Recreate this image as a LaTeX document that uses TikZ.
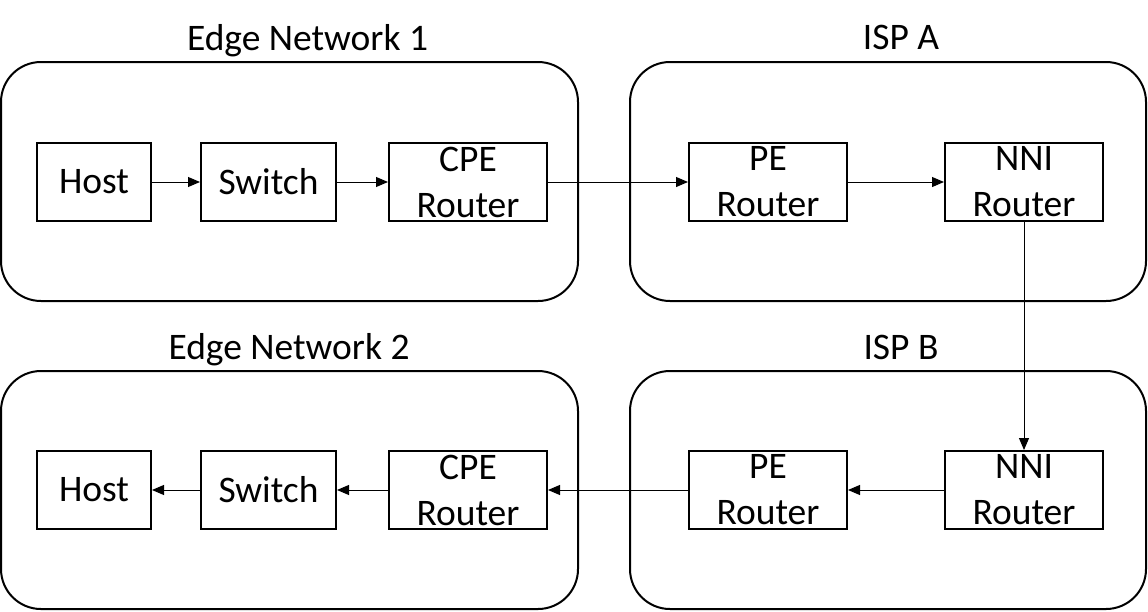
\documentclass[tikz,border=0pt]{standalone}
\usepackage{fontspec}
\setmainfont{Carlito}
\usetikzlibrary{arrows.meta}
\begin{document}
\begin{tikzpicture}[x=1pt,y=-1pt,
  every node/.style={font=\fontsize{37.5}{46}\selectfont},
  container/.style={draw,line width=2pt,rounded corners=40pt},
  devbox/.style={draw,line width=2pt,minimum height=78pt,inner sep=0pt,align=center},
  title/.style={anchor=base,inner sep=0pt},
  flow/.style={line width=1pt,-{Triangle[length=12pt,width=10pt]}}]
\useasboundingbox (0,0) rectangle (1148,611);
% containers
\draw[container] (1,62) rectangle (578,301);
\draw[container] (630,62) rectangle (1146,301);
\draw[container] (1,371) rectangle (578,609);
\draw[container] (630,371) rectangle (1146,609);
% titles
\node[title] (t1) at (307.5,50) {Edge Network 1};
\node[title] (t2) at (901,49) {ISP A};
\node[title] (t3) at (289,359) {Edge Network 2};
\node[title] (t4) at (901,359) {ISP B};
% top row
\node[devbox,minimum width=114pt] (h1) at (94,182) {Host};
\node[devbox,minimum width=135pt] (s1) at (268.5,182) {Switch};
\node[devbox,minimum width=158pt] (c1) at (468,182) {CPE\\Router};
\node[devbox,minimum width=158pt] (p1) at (768,182) {PE\\Router};
\node[devbox,minimum width=158pt] (n1) at (1024,182) {NNI\\Router};
% bottom row
\node[devbox,minimum width=114pt] (h2) at (94,490) {Host};
\node[devbox,minimum width=135pt] (s2) at (268.5,490) {Switch};
\node[devbox,minimum width=158pt] (c2) at (468,490) {CPE\\Router};
\node[devbox,minimum width=158pt] (p2) at (768,490) {PE\\Router};
\node[devbox,minimum width=158pt] (n2) at (1024,490) {NNI\\Router};
% connectors
\draw[flow] (h1) -- (s1);
\draw[flow] (s1) -- (c1);
\draw[flow] (c1) -- (p1);
\draw[flow] (p1) -- (n1);
\draw[flow] (n1) -- (n2);
\draw[flow] (n2) -- (p2);
\draw[flow] (p2) -- (c2);
\draw[flow] (c2) -- (s2);
\draw[flow] (s2) -- (h2);
\end{tikzpicture}
\end{document}
